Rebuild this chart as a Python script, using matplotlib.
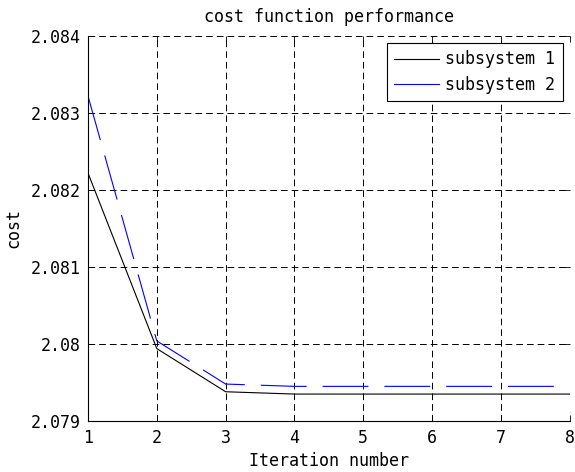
import numpy as np
import matplotlib
matplotlib.use("Agg")
import matplotlib.pyplot as plt

# -----------------------------
# Data
# -----------------------------
iterations = [1, 2, 3, 4, 5, 6, 7, 8]
cost_sub1 = [2.08222, 2.07994, 2.07938, 2.07935, 2.07935, 2.07935, 2.07935, 2.07935]
cost_sub2 = [2.08322, 2.08004, 2.07948, 2.07945, 2.07945, 2.07945, 2.07945, 2.07945]

xticks = [1, 2, 3, 4, 5, 6, 7, 8]
yticks = [2.079, 2.080, 2.081, 2.082, 2.083, 2.084]
ytick_labels = ["2.079", "2.08", "2.081", "2.082", "2.083", "2.084"]

plt.rcParams['font.family'] = ['DejaVu Sans Mono']
plt.rcParams['font.size'] = 12
plt.rcParams['lines.scale_dashes'] = False

fig = plt.figure(figsize=(5.75, 4.72), dpi=100)
ax = fig.add_axes([0.153, 0.108, 0.838, 0.816])

ax.plot(iterations, cost_sub1, color='black', lw=0.8, label='subsystem 1')
ax.plot(iterations, cost_sub2, color='blue', lw=0.8, dashes=[33, 11.5],
        label='subsystem 2')

ax.set_xlim(1, 8)
ax.set_ylim(2.079, 2.084)
ax.set_xticks(xticks)
ax.set_yticks(yticks)
ax.set_yticklabels(ytick_labels)

# MATLAB-like dashed grid, box off
ax.grid(True, color='black', lw=0.7, dashes=[4.8, 2.9])
for side in ['top', 'right']:
    ax.spines[side].set_visible(False)
for side in ['left', 'bottom']:
    ax.spines[side].set_linewidth(0.8)
ax.tick_params(direction='in', length=4, width=0.6, top=True, right=True,
               labelsize=12)
ax.tick_params(axis='x', pad=6)
ax.tick_params(axis='y', pad=5)

ax.set_title("cost function performance", fontsize=12, pad=10)
ax.set_xlabel("Iteration number", fontsize=12, labelpad=3)
ax.set_ylabel("cost", fontsize=12, labelpad=6)

leg = ax.legend(loc='upper right', fontsize=12, fancybox=False,
                framealpha=1, edgecolor='black', borderaxespad=0.42,
                handlelength=2.7, handletextpad=0.35, borderpad=0.45,
                labelspacing=0.45)
leg.get_frame().set_linewidth(0.8)
for h in leg.get_lines():
    h.set_linestyle('-')

fig.savefig("out.png", dpi=100)
